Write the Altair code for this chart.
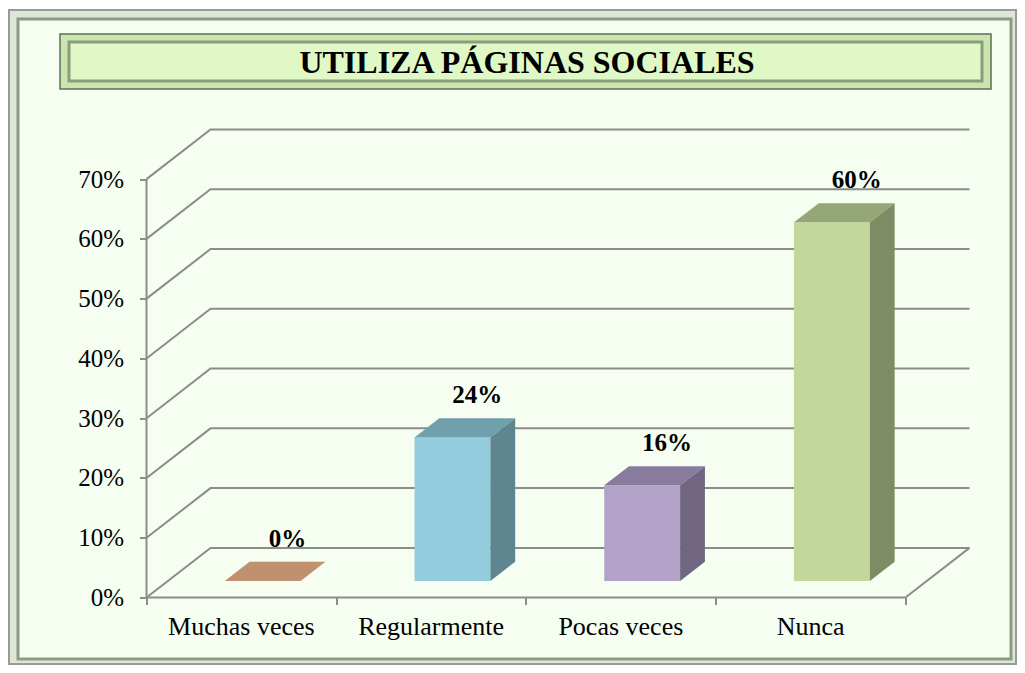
import altair as alt
import pandas as pd

# ---------------- data ----------------
TITLE = "UTILIZA PÁGINAS SOCIALES"
categories = ["Muchas veces", "Regularmente", "Pocas veces", "Nunca"]
values = [0, 24, 16, 60]
y_ticks = [0, 10, 20, 30, 40, 50, 60, 70]

# ---------------- styles ----------------
front_colors = ["#FAC090", "#93CDDD", "#B3A2C7", "#C3D69B"]
top_colors = ["#C0916E", "#71A0AD", "#887B9D", "#96A777"]
side_colors = ["#A9795A", "#5E8590", "#706681", "#7F8B63"]
GRAY = "#8C8C8C"
BG = "#F5FEF1"
FONT = "Liberation Serif"

# 3D projection parameters (oblique)
n = len(categories)
DX, DY = 0.3375, 8.3          # depth offset in x (category units) and y (percent units)
F1, F2 = 0.333, 0.72          # bar front / back depth fractions
BAR_L, BAR_R = 0.3, 0.7       # bar extent within a category slot
ymax = max(y_ticks)

W, H = 823, 468
OX, OY = 146.5, 129.5         # page position of plot origin
PAD = {"left": OX - 8, "top": OY - 8, "right": 1009 - (OX - 8) - W, "bottom": 657 - (OY - 8) - H}

xs = alt.Scale(domain=[0, n + DX], nice=False, zero=False)
ys = alt.Scale(domain=[0, ymax + DY], nice=False, zero=False)
xaxis = alt.Axis(values=list(range(n + 1)), labels=False, domain=False, grid=False,
                 ticks=True, tickSize=7, tickWidth=2, tickColor=GRAY, title=None, zindex=2)
yaxis = alt.Axis(values=y_ticks, labelExpr="datum.value + '%'", domain=False, grid=False,
                 ticks=True, tickSize=7, tickWidth=2, tickColor=GRAY,
                 labelFont=FONT, labelFontSize=25, labelColor="black",
                 labelPadding=16, title=None, zindex=2)


def X(f):
    return alt.X(f, type="quantitative", scale=xs, axis=xaxis, stack=False)


def Y(f):
    return alt.Y(f, type="quantitative", scale=ys, axis=yaxis, stack=False)


bars = pd.DataFrame({
    "cat": categories, "value": values, "idx": list(range(n)),
    "front": front_colors, "top": top_colors, "side": side_colors,
})
base = alt.Chart(bars)

# ---------------- decorations (frame + title box) ----------------
deco = alt.Chart(pd.DataFrame({"k": [0]}))


def box(x1, y1, x2, y2, **kw):
    return deco.mark_rect(**kw).encode(
        x=alt.value(x1 - OX), x2=alt.value(x2 - OX),
        y=alt.value(y1 - OY), y2=alt.value(y2 - OY))


frame_outer = box(9, 10, 1016, 664, fill="#DCE8D5", stroke="#9A9A9A", strokeWidth=2)
frame_inner = box(18, 19, 1011, 659, fill=BG, stroke="#8E9A88", strokeWidth=3)
title_outer = box(60, 34, 991, 89, fill="#C9E6AC", stroke="#5F6D56", strokeWidth=1.5)
title_inner = box(69, 42, 982, 81, fill="#DFF8C6", stroke="#8A9C7C", strokeWidth=3)
title_text = deco.mark_text(font=FONT, fontSize=32, fontWeight="bold", color="black",
                            align="center", baseline="middle").encode(
    x=alt.value(527 - OX), y=alt.value(63 - OY), text=alt.value(TITLE))

# ---------------- walls / gridlines ----------------
grid = alt.Chart(pd.DataFrame({"v": y_ticks})).transform_calculate(
    gx=f"[0, {DX}, {n + DX}]",
    gy=f"[datum.v, datum.v + {DY}, datum.v + {DY}]",
    k="[0, 1, 2]",
).transform_flatten(["gx", "gy", "k"]).mark_line(color=GRAY, strokeWidth=2).encode(
    x=X("gx"), y=Y("gy"), detail="v:N", order="k:Q")

edges_df = pd.DataFrame({
    "x0": [0, n, 0], "y0": [0, 0, 0],
    "x1": [n, n + DX, 0], "y1": [0, DY, ymax],
})
edges = alt.Chart(edges_df).mark_rule(color=GRAY, strokeWidth=2).encode(
    x=X("x0"), y=Y("y0"), x2=alt.X2("x1"), y2=alt.Y2("y1"))

# ---------------- bars ----------------
front = base.transform_calculate(
    fx0=f"datum.idx + {BAR_L + DX * F1}",
    fx1=f"datum.idx + {BAR_R + DX * F1}",
    fy0=f"{DY * F1}",
    fy1=f"datum.value + {DY * F1}",
).mark_rect().encode(
    x=X("fx0"), x2=alt.X2("fx1"), y=Y("fy0"), y2=alt.Y2("fy1"),
    color=alt.Color("front:N", scale=None))

top = base.transform_calculate(d=f"[{F1}, {F2}]").transform_flatten(["d"]).transform_calculate(
    ty=f"datum.value + {DY} * datum.d",
    tx0=f"datum.idx + {BAR_L} + {DX} * datum.d",
    tx1=f"datum.idx + {BAR_R} + {DX} * datum.d",
).mark_area(orient="horizontal").encode(
    y=Y("ty"), x=X("tx0"), x2=alt.X2("tx1"),
    color=alt.Color("top:N", scale=None), detail="cat:N")

side = base.transform_calculate(d=f"[{F1}, {F2}]").transform_flatten(["d"]).transform_calculate(
    sx=f"datum.idx + {BAR_R} + {DX} * datum.d",
    sy0=f"{DY} * datum.d",
    sy1=f"datum.value + {DY} * datum.d",
).mark_area(orient="vertical").encode(
    x=X("sx"), y=Y("sy1"), y2=alt.Y2("sy0"),
    color=alt.Color("side:N", scale=None), detail="cat:N")

# ---------------- labels ----------------
value_labels = base.transform_calculate(
    lx=f"datum.idx + 0.5 + {DX * F2}",
    ly=f"datum.value + {DY * F2}",
    lt="datum.value + '%'",
).mark_text(font=FONT, fontSize=25, fontWeight="bold", color="black",
            align="center", baseline="alphabetic", dy=-15).encode(
    x=X("lx"), y=Y("ly"), text="lt:N")

cat_labels = base.transform_calculate(cx="datum.idx + 0.5", cy="0").mark_text(
    font=FONT, fontSize=26, color="black", align="center", baseline="alphabetic", dy=37.5
).encode(x=X("cx"), y=Y("cy"), text="cat:N")

chart = alt.layer(
    frame_outer, frame_inner, title_outer, title_inner, title_text,
    grid, edges, front, top, side, value_labels, cat_labels,
).properties(
    width=W, height=H,
    autosize=alt.AutoSizeParams(type="none"),
    padding=PAD,
    background="white",
).configure_view(stroke=None)

chart.save("out.html", embed_options={"renderer": "svg", "actions": False})
